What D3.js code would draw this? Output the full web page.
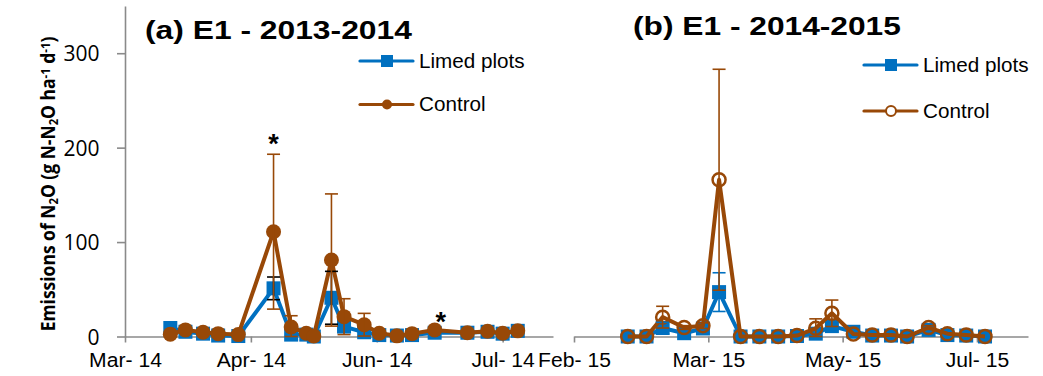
<!DOCTYPE html>
<html>
<head>
<meta charset="utf-8">
<script src="https://cdn.jsdelivr.net/npm/d3@7"></script>
<style>
  body { margin: 0; background: #fff; }
  svg { display: block; }
</style>
</head>
<body>
<svg id="chart" width="1043" height="376"></svg>
<script>
// ---- Season (a): E1 2013-2014 ----
const datesA = ["2014-03-19","2014-03-25","2014-04-01","2014-04-07","2014-04-15","2014-04-29","2014-05-06",
  "2014-05-12","2014-05-15","2014-05-22","2014-05-27","2014-06-04","2014-06-10","2014-06-17","2014-06-23",
  "2014-07-02","2014-07-15","2014-07-23","2014-07-29","2014-08-04"];
const limedA      = [9, 5, 3, 1, 0.5, 51, 2, 2, 0, 41, 10.5, 4.5, 1.5, 1, 1.5, 4, 4, 5, 3, 6];
const limedErrA   = [0, 0, 0, 0, 0, 12, 0, 0, 0, 28, 0, 0, 0, 0, 0, 0, 0, 0, 0, 0];
const controlA    = [2.5, 7, 4.5, 3, 2, 111, 10, 3.5, 0.5, 81, 21, 12.5, 3.5, 0.7, 3, 7, 4, 5.6, 3.5, 6];
const controlErrA = [0, 0, 0, 0, 0, 82, 12, 0, 0, 70, 19, 12, 0, 0, 0, 0, 0, 0, 0, 0];
const signifA     = ["2014-04-29", "2014-07-02"];
const domainA     = ["2014-03-01", "2014-08-18"];
const tickDatesA  = ["2014-03-01","2014-04-20","2014-06-09","2014-07-29"];
const tickLabelsA = ["Mar- 14","Apr- 14","Jun- 14","Jul- 14"];

// ---- Season (b): E1 2014-2015 ----
const datesB = ["2015-03-01","2015-03-08","2015-03-14","2015-03-22","2015-03-29","2015-04-04","2015-04-12",
  "2015-04-19","2015-04-26","2015-05-03","2015-05-10","2015-05-16","2015-05-24","2015-05-31","2015-06-07",
  "2015-06-13","2015-06-21","2015-06-28","2015-07-05","2015-07-12"];
const limedB      = [0, 0, 9, 3.5, 8.5, 47, 0, 0, 0, 0.5, 3, 11, 5, 1, 1, 0, 7, 1.5, 1, 0];
const limedErrB   = [0, 0, 6, 0, 0, 20.5, 0, 0, 0, 0, 0, 4, 0, 0, 0, 0, 0, 0, 0, 0];
const controlB    = [0, 0, 20.5, 9.5, 11.5, 166, 0, 0, 0, 1, 8.7, 24.6, 2.6, 1.5, 1.5, 0, 9.5, 3, 1.5, 0];
const controlErrB = [0, 0, 11.5, 2, 3, 117, 0, 0, 0, 0, 10, 14, 0, 0, 0, 0, 2, 0, 0, 0];
const signifB     = [];
const domainB     = ["2015-02-09", "2015-07-28"];
const tickDatesB  = ["2015-02-09","2015-03-31","2015-05-20","2015-07-09"];
const tickLabelsB = ["Feb- 15","Mar- 15","May- 15","Jul- 15"];

const yTicks  = [0, 100, 200, 300];
const yMax    = 350;
const seriesNames = ["Limed plots", "Control"];

// ---- styling ----
const BLUE = "#0070C0", BROWN = "#984807", AXIS = "#8a8a8a";
const svg = d3.select("#chart");
svg.append("rect").attr("width", 1043).attr("height", 376).attr("fill", "#fff");

const parse = d3.timeParse("%Y-%m-%d");
const y = d3.scaleLinear().domain([0, yMax]).range([336.5, 6]);

// horizontal stretch factor that makes a text element `target` px wide
function fitWidth(sel, target) {
  const w = sel.node().getBBox().width;
  return target / w;
}

function panel(cfg) {
  const x = d3.scaleTime().domain(cfg.domain.map(parse)).range(cfg.range);
  const g = svg.append("g");

  const rows = cfg.dates.map((d, i) => ({
    date: parse(d),
    limed: cfg.limed[i], limedErr: cfg.limedErr[i],
    control: cfg.control[i], controlErr: cfg.controlErr[i]
  }));

  // x axis
  const xAxis = g.append("g").attr("transform", `translate(0,${y(0)})`)
    .call(d3.axisBottom(x)
      .tickValues(cfg.tickDates.map(parse))
      .tickFormat((d, i) => cfg.tickLabels[i])
      .tickSize(6).tickSizeOuter(0));
  xAxis.select(".domain").attr("stroke", AXIS).attr("stroke-width", 1.6);
  xAxis.selectAll(".tick line").attr("stroke", AXIS).attr("stroke-width", 1.6);
  xAxis.selectAll(".tick text")
    .attr("y", 31).attr("dy", null)
    .attr("fill", "#000")
    .style("font-family", "'Liberation Sans', Arial, sans-serif")
    .style("font-size", "19.5px");
  const xs = fitWidth(xAxis.select(".tick text"), 73);
  xAxis.selectAll(".tick text").attr("transform", `scale(${xs},1)`);

  // y axis (left panel only)
  if (cfg.yAxis) {
    const yAxis = g.append("g").attr("transform", `translate(${cfg.range[0]},0)`)
      .call(d3.axisLeft(y).tickValues(yTicks).tickSize(8).tickSizeOuter(0).tickPadding(0));
    yAxis.select(".domain").attr("stroke", AXIS).attr("stroke-width", 1.6);
    yAxis.selectAll(".tick line").attr("stroke", AXIS).attr("stroke-width", 1.6);
    yAxis.selectAll(".tick text")
      .attr("x", -25.5).attr("dy", "0.36em")
      .attr("fill", "#000")
      .style("font-family", "'Open Sans', 'Noto Sans', sans-serif")
      .style("font-size", "21px");
  }

  const line = key => d3.line().x(d => x(d.date)).y(d => y(d[key]));

  // Limed plots series
  g.append("path").datum(rows).attr("d", line("limed"))
    .attr("fill", "none").attr("stroke", BLUE).attr("stroke-width", 4)
    .attr("stroke-linejoin", "round");
  g.selectAll(".sq").data(rows).join("rect")
    .attr("x", d => x(d.date) - 7).attr("y", d => y(d.limed) - 7)
    .attr("width", 14).attr("height", 14).attr("fill", BLUE);

  // Control series
  g.append("path").datum(rows).attr("d", line("control"))
    .attr("fill", "none").attr("stroke", BROWN).attr("stroke-width", 4)
    .attr("stroke-linejoin", "round");
  g.selectAll(".ci").data(rows).join("circle")
    .attr("cx", d => x(d.date)).attr("cy", d => y(d.control))
    .attr("r", cfg.openMarker ? 6.5 : 7.5)
    .attr("fill", cfg.openMarker ? "none" : BROWN)
    .attr("stroke", BROWN).attr("stroke-width", cfg.openMarker ? 2.5 : 0);

  // error bars (mean ± SE)
  function errorBars(key, errKey, color) {
    const eb = g.append("g").attr("stroke", color).attr("stroke-width", 1.6).attr("fill", "none");
    rows.filter(d => d[errKey] > 0).forEach(d => {
      const cx = x(d.date);
      const lo = y(Math.max(0, d[key] - d[errKey])), hi = y(d[key] + d[errKey]);
      eb.append("line").attr("x1", cx).attr("x2", cx).attr("y1", lo).attr("y2", hi);
      eb.append("line").attr("x1", cx - 6.5).attr("x2", cx + 6.5).attr("y1", lo).attr("y2", lo);
      eb.append("line").attr("x1", cx - 6.5).attr("x2", cx + 6.5).attr("y1", hi).attr("y2", hi);
    });
  }
  errorBars("limed", "limedErr", cfg.limedErrColor);
  errorBars("control", "controlErr", BROWN);

  // significance markers above the control values
  cfg.signif.map(parse).forEach(dt => {
    const d = rows.find(r => +r.date === +dt);
    if (!d) return;
    g.append("text")
      .attr("x", x(d.date) + (d.controlErr > 0 ? 0 : 6))
      .attr("y", y(d.control + d.controlErr) + (d.controlErr > 0 ? -1 : 1))
      .attr("text-anchor", "middle")
      .style("font-family", "'Liberation Sans', Arial, sans-serif")
      .style("font-size", "27px").style("font-weight", "bold")
      .text("*");
  });

  // title
  const t = g.append("text")
    .style("font-family", "'Liberation Sans', Arial, sans-serif")
    .style("font-size", "25.5px").style("font-weight", "bold")
    .attr("fill", "#000").text(cfg.title);
  const ts = fitWidth(t, 268);
  t.attr("transform", `translate(${cfg.titlePos[0]},${cfg.titlePos[1]}) scale(${ts},1)`);

  // legend
  const lg = g.append("g").attr("transform", `translate(${cfg.legendPos[0]},${cfg.legendPos[1]})`);
  const items = [
    { name: seriesNames[0], color: BLUE, marker: "square" },
    { name: seriesNames[1], color: BROWN, marker: "circle" }
  ];
  items.forEach((it, i) => {
    const row = lg.append("g").attr("transform", `translate(0,${i * cfg.legendGap})`);
    row.append("line").attr("x1", 0).attr("x2", 53).attr("y1", 0).attr("y2", 0)
      .attr("stroke", it.color).attr("stroke-width", 3.2).attr("stroke-linecap", "round");
    if (it.marker === "square") {
      row.append("rect").attr("x", 21).attr("y", -6).attr("width", 12).attr("height", 12).attr("fill", it.color);
    } else {
      row.append("circle").attr("cx", 27).attr("cy", 0).attr("r", 5)
        .attr("fill", cfg.openMarker ? "#fff" : it.color)
        .attr("stroke", it.color).attr("stroke-width", cfg.openMarker ? 2 : 0);
    }
    const tx = row.append("text").attr("y", 6.8)
      .style("font-family", "'Liberation Sans', Arial, sans-serif")
      .style("font-size", "19.5px").attr("fill", "#000").text(it.name);
    tx.attr("transform", `translate(59,0) scale(${cfg.legendStretch},1)`);
  });
}

panel({
  dates: datesA, limed: limedA, limedErr: limedErrA, control: controlA, controlErr: controlErrA,
  signif: signifA, domain: domainA, range: [125, 553],
  tickDates: tickDatesA, tickLabels: tickLabelsA,
  yAxis: true, openMarker: false, limedErrColor: "#000",
  title: "(a) E1 - 2013-2014", titlePos: [145, 38.5],
  legendPos: [360, 61], legendGap: 43.5, legendStretch: 1.06
});

panel({
  dates: datesB, limed: limedB, limedErr: limedErrB, control: controlB, controlErr: controlErrB,
  signif: signifB, domain: domainB, range: [574, 1028],
  tickDates: tickDatesB, tickLabels: tickLabelsB,
  yAxis: false, openMarker: true, limedErrColor: BLUE,
  title: "(b) E1 - 2014-2015", titlePos: [633, 35],
  legendPos: [864, 65], legendGap: 46, legendStretch: 1.06
});

// y axis title with sub/superscripts
const yl = svg.append("text")
  .attr("text-anchor", "middle")
  .style("font-family", "'Open Sans', 'Noto Sans', sans-serif")
  .style("font-size", "20px").style("font-weight", "bold")
  .attr("fill", "#000");
const parts = [
  ["Emissions of N", null], ["2", "sub"], ["O (g N-N", null], ["2", "sub"],
  ["O ha", null], ["-1", "sup"], [" d", null], ["-1", "sup"], [")", null]
];
parts.forEach(([txt, kind]) => {
  const sp = yl.append("tspan").text(txt);
  if (kind === "sub") sp.attr("baseline-shift", "-25%").style("font-size", "13px");
  if (kind === "sup") sp.attr("baseline-shift", "40%").style("font-size", "13px");
});
const ys = fitWidth(yl, 295);
yl.attr("transform", `translate(55,184) rotate(-90) scale(${ys},1)`);
</script>
</body>
</html>
